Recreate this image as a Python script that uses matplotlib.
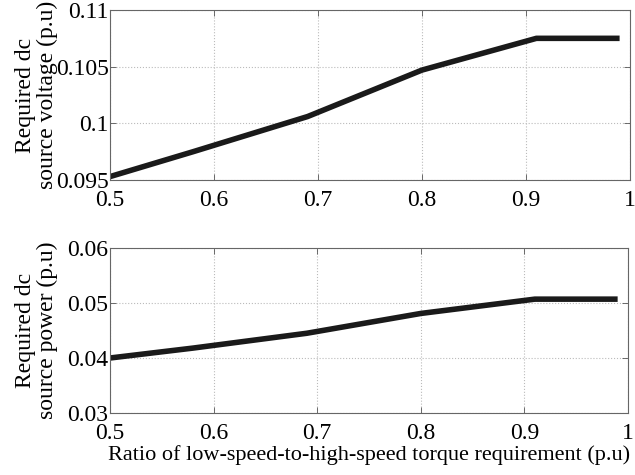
import matplotlib
matplotlib.use("Agg")
import matplotlib.pyplot as plt

x = [0.5, 0.58, 0.69, 0.80, 0.91, 0.99]
voltage = [0.0953, 0.0975, 0.1006, 0.1047, 0.1075, 0.1075]
power = [0.0400, 0.0418, 0.0445, 0.0481, 0.0507, 0.0507]
xticks = [0.5, 0.6, 0.7, 0.8, 0.9, 1.0]
xticklabels = ["0.5", "0.6", "0.7", "0.8", "0.9", "1"]
vticks = [0.095, 0.1, 0.105, 0.11]
vticklabels = ["0.095", "0.1", "0.105", "0.11"]
pticks = [0.03, 0.04, 0.05, 0.06]
pticklabels = ["0.03", "0.04", "0.05", "0.06"]

plt.rcParams['font.family'] = ['Liberation Serif', 'DejaVu Serif']

fig = plt.figure(figsize=(6.35, 4.75), dpi=100)
ax1 = fig.add_axes([110/635, 1-180/475, 520/635, 170/475])
ax2 = fig.add_axes([110/635, 1-413/475, 518/635, 165/475])

for ax, y, yt, ytl, yl in [
    (ax1, voltage, vticks, vticklabels, "Required dc\nsource voltage (p.u)"),
    (ax2, power, pticks, pticklabels, "Required dc\nsource power (p.u)"),
]:
    ax.plot(x, y, color="#1a1a1a", lw=4, solid_capstyle="butt")
    ax.set_xlim(0.5, 1.0)
    ax.set_ylim(yt[0], yt[-1])
    ax.set_xticks(xticks)
    ax.set_xticklabels(xticklabels, fontsize=17)
    ax.set_yticks(yt)
    ax.set_yticklabels(ytl, fontsize=17)
    ax.grid(True, linestyle=":", color="#bbbbbb", lw=0.8)
    ax.tick_params(direction="in", right=True, top=True, length=4, width=0.6,
                   color="#555555")
    ax.tick_params(axis="x", pad=7)
    ax.tick_params(axis="y", pad=1)
    for s in ax.spines.values():
        s.set_color("#666666")
        s.set_linewidth(0.8)
    ax.set_ylabel(yl, fontsize=17, linespacing=1.05)
    ax.yaxis.set_label_coords(-0.100, 0.5)

ax2.set_xlabel("Ratio of low-speed-to-high-speed torque requirement (p.u)",
               fontsize=16, labelpad=1)

fig.savefig("out.png", dpi=100)
